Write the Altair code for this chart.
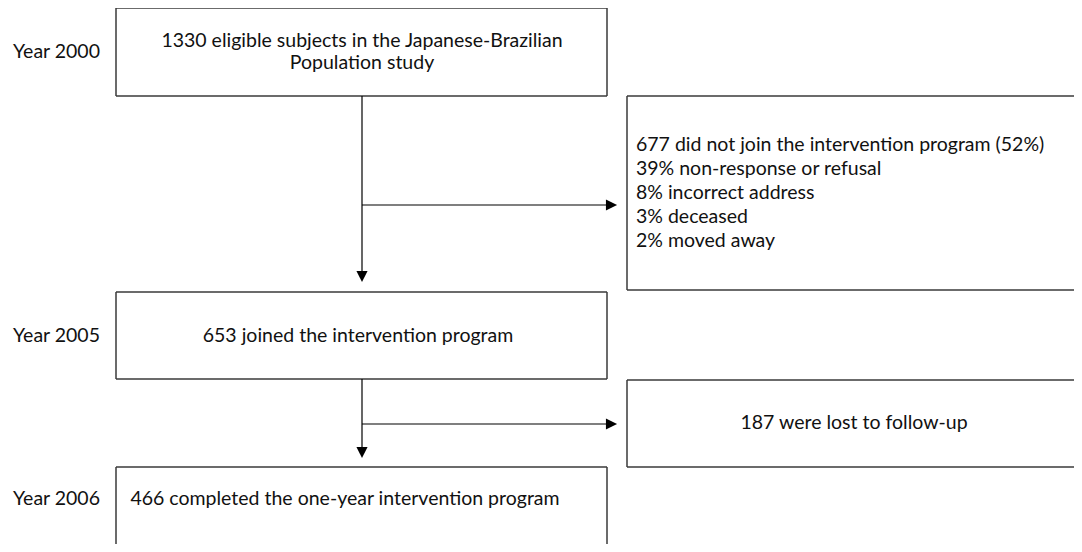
import altair as alt
import pandas as pd

# ---- content ----
year_labels = ["Year 2000", "Year 2005", "Year 2006"]
main_boxes = [
    ["1330 eligible subjects in the Japanese-Brazilian", "Population study"],
    ["653 joined the intervention program"],
    ["466 completed the one-year intervention program"],
]
side_boxes = [
    ["677 did not join the intervention program (52%)",
     "39% non-response or refusal",
     "8% incorrect address",
     "3% deceased",
     "2% moved away"],
    ["187 were lost to follow-up"],
]

# ---- layout (pixel coordinates of the canvas) ----
W, H = 1066, 536
X0, Y0 = 8, 8
FONT = "Lato"
FS = 19.5
LINE = 22
SIDE_LINE = 24

main_rect = [(116, 8, 607, 96), (116, 292, 607, 379), (116, 467, 607, 560)]
main_text_x = [362, 358, 345]
main_text_y = [52, 336, 499]
side_rect = [(627, 96, 1090, 290), (627, 380, 1090, 467)]
year_x = 100

# box edges
edges = []
for i, (x1, y1, x2, y2) in enumerate(main_rect):
    edges.append((x1, y1, x2, y1))
    edges.append((x1, y1, x1, y2))
    edges.append((x2, y1, x2, y2))
    if i < 2:
        edges.append((x1, y2, x2, y2))
for (x1, y1, x2, y2) in side_rect:
    edges.append((x1, y1, x2, y1))
    edges.append((x1, y1, x1, y2))
    edges.append((x1, y2, x2, y2))
edf = pd.DataFrame(edges, columns=["x", "y", "x2", "y2"])

# connectors
stem_x = 362
conn = [
    (stem_x, 96, stem_x, 276),
    (stem_x, 205, 611, 205),
    (stem_x, 379, stem_x, 452),
    (stem_x, 424, 611, 424),
]
cdf = pd.DataFrame(conn, columns=["x", "y", "x2", "y2"])
down_heads = pd.DataFrame({"x": [stem_x, stem_x], "y": [276.5, 452.5]})
right_heads = pd.DataFrame({"x": [611.5, 611.5], "y": [205, 424]})

# texts
rows = []
for i, lab in enumerate(year_labels):
    rows.append(dict(t=lab, x=year_x, y=main_text_y[i], a="right"))
for i, lines in enumerate(main_boxes):
    n = len(lines)
    for j, s in enumerate(lines):
        rows.append(dict(t=s, x=main_text_x[i],
                         y=main_text_y[i] + (j - (n - 1) / 2) * LINE, a="center"))
side_cy = [192.5, 423]
side_x = [636, 854]
side_align = ["left", "center"]
for i, lines in enumerate(side_boxes):
    n = len(lines)
    for j, s in enumerate(lines):
        rows.append(dict(t=s, x=side_x[i],
                         y=side_cy[i] + (j - (n - 1) / 2) * SIDE_LINE, a=side_align[i]))
tdf = pd.DataFrame(rows)

xs = alt.Scale(domain=[X0, X0 + W], range=[0, W])
ys = alt.Scale(domain=[Y0, Y0 + H], range=[0, H])

def X(f="x"):
    return alt.X(f"{f}:Q", scale=xs, axis=None)

def Y(f="y"):
    return alt.Y(f"{f}:Q", scale=ys, axis=None)

boxes = alt.Chart(edf).mark_rule(color="#3a3a3a", strokeWidth=1.5).encode(
    x=X(), y=Y(), x2="x2:Q", y2="y2:Q")
lines = alt.Chart(cdf).mark_rule(color="#000000", strokeWidth=1.2).encode(
    x=X(), y=Y(), x2="x2:Q", y2="y2:Q")
dh = alt.Chart(down_heads).mark_point(
    shape="M-1,-1L1,-1L0,1Z", filled=True, color="#000000", size=125, opacity=1
).encode(x=X(), y=Y())
rh = alt.Chart(right_heads).mark_point(
    shape="M-1,-1L1,0L-1,1Z", filled=True, color="#000000", size=125, opacity=1
).encode(x=X(), y=Y())

def texts(align):
    return alt.Chart(tdf[tdf["a"] == align]).mark_text(
        align=align, baseline="middle", font=FONT, fontSize=FS, color="#111111"
    ).encode(x=X(), y=Y(), text="t:N")

chart = alt.layer(boxes, lines, dh, rh, texts("left"), texts("center"), texts("right")).properties(
    width=W, height=H, padding=0, autosize=alt.AutoSizeParams(type="none")
).configure_view(stroke=None)

chart.save("out.html", embed_options={"renderer": "svg", "actions": False})
